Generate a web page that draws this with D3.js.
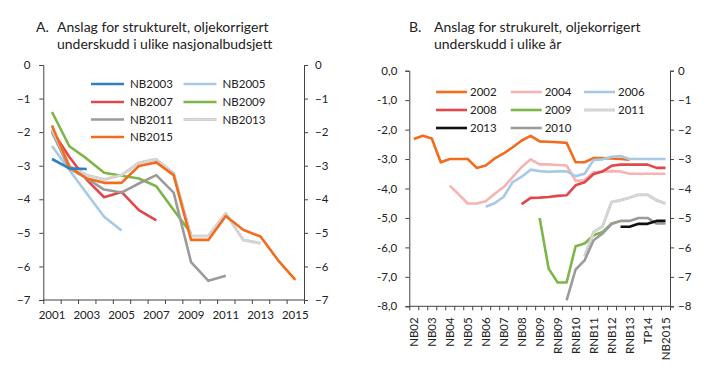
<!DOCTYPE html>
<html>
<head>
<meta charset="utf-8">
<script src="https://cdn.jsdelivr.net/npm/d3@7"></script>
<style>
  html, body { margin: 0; padding: 0; background: #fff; }
  svg { display: block; font-family: "Lato", "Liberation Sans", sans-serif; }
</style>
</head>
<body>
<svg id="chart" width="719" height="383"></svg>
<script>
// ---------- Panel A data ----------
const yearsA = [2001, 2002, 2003, 2004, 2005, 2006, 2007, 2008, 2009, 2010, 2011, 2012, 2013, 2014, 2015];
const yTicksA = [0, -1, -2, -3, -4, -5, -6, -7];
const xLabelsA = [2001, 2003, 2005, 2007, 2009, 2011, 2013, 2015];
const nb2003 = [-2.8, -3.08, -3.1];
const nb2005 = [-2.41, -3.13, -3.83, -4.52, -4.93];
const nb2007 = [-1.95, -2.74, -3.42, -3.94, -3.78, -4.32, -4.63];
const nb2009 = [-1.4, -2.42, -2.79, -3.21, -3.3, -3.38, -3.61, -4.32, -5.01];
const nb2011 = [-2.0, -3.08, -3.38, -3.71, -3.8, -3.53, -3.28, -3.8, -5.87, -6.43, -6.28];
const nb2013 = [-1.9, -3.0, -3.28, -3.41, -3.28, -2.91, -2.81, -3.23, -5.09, -5.09, -4.42, -5.21, -5.31];
const nb2015 = [-1.8, -3.03, -3.38, -3.51, -3.51, -3.01, -2.9, -3.28, -5.21, -5.21, -4.5, -4.91, -5.11, -5.81, -6.4];

// ---------- Panel B data ----------
const catsB = ["NB02","RNB02","NB03","RNB03","NB04","RNB04","NB05","RNB05","NB06","RNB06",
               "NB07","RNB07","NB08","RNB08","NB09","TP09","RNB09","NB10","RNB10","NB11",
               "RNB11","NB12","RNB12","NB13","RNB13","NB14","TP14","RNB14","NB2015"];
const xLabelsB = ["NB02","NB03","NB04","NB05","NB06","NB07","NB08","NB09","RNB09","RNB10","RNB11","RNB12","RNB13","TP14","NB2015"];
const yTicksB = [0, -1, -2, -3, -4, -5, -6, -7, -8];
const s2002 = [-2.32,-2.21,-2.30,-3.11,-3.0,-3.0,-3.0,-3.3,-3.22,-2.98,-2.81,-2.6,-2.37,-2.21,-2.4,-2.41,-2.43,-2.45,-3.11,-3.11,-2.97,-2.97,-2.98,-3.0,-3.02];
const s2004 = [-3.9,-4.2,-4.51,-4.51,-4.43,-4.18,-3.95,-3.61,-3.27,-3.01,-3.18,-3.18,-3.2,-3.22,-3.74,-3.72,-3.45,-3.42,-3.41,-3.42,-3.5,-3.5,-3.5,-3.5,-3.5];
const s2006 = [-4.62,-4.5,-4.28,-3.78,-3.6,-3.36,-3.41,-3.43,-3.42,-3.42,-3.58,-3.5,-3.03,-3.01,-2.92,-2.9,-3.0,-3.0,-3.0,-3.0,-3.0];
const s2008 = [-4.53,-4.32,-4.31,-4.29,-4.25,-4.23,-3.89,-3.79,-3.51,-3.42,-3.23,-3.19,-3.19,-3.19,-3.19,-3.3,-3.3];
const s2009 = [-5.0,-6.72,-7.19,-7.19,-5.96,-5.87,-5.59,-5.48,-5.19,-5.1];
const s2011 = [-6.3,-5.48,-5.28,-4.46,-4.4,-4.31,-4.21,-4.21,-4.4,-4.51];
const s2010 = [-7.8,-6.75,-6.44,-5.76,-5.53,-5.21,-5.1,-5.1,-5.0,-5.0,-5.19,-5.19];
const s2013 = [-5.3,-5.3,-5.2,-5.2,-5.1,-5.1];

const C = {
  blue: "#2f7fc1", lightblue: "#a8c9e6", red: "#e1474b", green: "#7cb647",
  grey: "#9b9b9b", lightgrey: "#cfcfcf", orange: "#f36c1c", pink: "#f6b3b2", black: "#111111"
};

const svg = d3.select("#chart");
const axisColor = "#444";
const tickFont = 11.5;
const titleFont = 14;

function drawDotted(g, pathD, w) {
  g.append("path").attr("d", pathD).attr("fill", "none").attr("stroke", C.lightgrey)
    .attr("stroke-width", w).attr("stroke-linejoin", "round");
  g.append("path").attr("d", pathD).attr("fill", "none").attr("stroke", "#e6e6e6")
    .attr("stroke-width", 1).attr("stroke-dasharray", "1.5,1.5");
}

function title(g, xl, xt, letter, l1, l2) {
  g.append("text").attr("x", xl).attr("y", 31.5).attr("font-size", titleFont).attr("fill", "#222").text(letter);
  g.append("text").attr("x", xt).attr("y", 31.5).attr("font-size", titleFont).attr("fill", "#222").text(l1);
  g.append("text").attr("x", xt).attr("y", 48.5).attr("font-size", titleFont).attr("fill", "#222").text(l2);
}

function styleAxes(list) {
  list.forEach(a => {
    a.select(".domain").attr("stroke", axisColor);
    a.selectAll(".tick line").attr("stroke", axisColor);
    a.selectAll("text").attr("font-size", tickFont).attr("fill", "#222").attr("font-family", "Lato, sans-serif");
  });
}

// ================= Panel A =================
(function () {
  const L = 43.3, R = 304, T = 65, B = 300;
  const x = d3.scaleBand().domain(yearsA).range([L, R]).padding(0);
  const y = d3.scaleLinear().domain([-7, 0]).range([B, T]);
  const g = svg.append("g");

  title(g, 36, 57, "A.", "Anslag for strukturelt, oljekorrigert", "underskudd i ulike nasjonalbudsjett");

  const la = g.append("g").attr("transform", `translate(${L},0)`)
    .call(d3.axisLeft(y).tickValues(yTicksA).tickSize(4).tickPadding(9).tickFormat(d3.format("d")));
  const ra = g.append("g").attr("transform", `translate(${R},0)`)
    .call(d3.axisRight(y).tickValues(yTicksA).tickSize(4).tickPadding(7).tickFormat(d3.format("d")));
  const xb = d3.scaleLinear().domain([0, yearsA.length]).range([L, R]);
  const ba = g.append("g").attr("transform", `translate(0,${B})`)
    .call(d3.axisBottom(xb).tickValues(d3.range(0, yearsA.length + 1)).tickSize(4).tickFormat(""));
  styleAxes([la, ra, ba]);
  ba.select(".domain").attr("d", `M${L},0H${R}`);
  g.selectAll(null).data(xLabelsA).enter().append("text")
    .attr("x", d => x(d) + x.bandwidth() / 2).attr("y", B + 19)
    .attr("text-anchor", "middle").attr("font-size", tickFont).attr("fill", "#222")
    .text(d => d);

  const line = d3.line().x((d, i) => x(yearsA[i]) + x.bandwidth() / 2).y(d => y(d));
  const series = [
    { v: nb2005, c: C.lightblue }, { v: nb2007, c: C.red }, { v: nb2009, c: C.green },
    { v: nb2011, c: C.grey }, { v: nb2013, c: "dotted" }, { v: nb2015, c: C.orange }, { v: nb2003, c: C.blue }
  ];
  series.forEach(s => {
    const d = line(s.v);
    if (s.c === "dotted") drawDotted(g, d, 3);
    else g.append("path").attr("d", d).attr("fill", "none").attr("stroke", s.c)
      .attr("stroke-width", 2.6).attr("stroke-linejoin", "round");
  });

  const leg = [
    { n: "NB2003", c: C.blue, col: 0, row: 0 }, { n: "NB2005", c: C.lightblue, col: 1, row: 0 },
    { n: "NB2007", c: C.red, col: 0, row: 1 }, { n: "NB2009", c: C.green, col: 1, row: 1 },
    { n: "NB2011", c: C.grey, col: 0, row: 2 }, { n: "NB2013", c: "dotted", col: 1, row: 2 },
    { n: "NB2015", c: C.orange, col: 0, row: 3 }
  ];
  const colX = [91, 183.5], rowY = [84, 102, 119.5, 137];
  leg.forEach(e => {
    const x0 = colX[e.col], yy = rowY[e.row];
    const d = `M${x0},${yy}H${x0 + 33}`;
    if (e.c === "dotted") drawDotted(g, d, 3);
    else g.append("path").attr("d", d).attr("stroke", e.c).attr("stroke-width", 2.6);
    g.append("text").attr("x", x0 + 39).attr("y", yy + 4).attr("font-size", tickFont).attr("fill", "#222").text(e.n);
  });
})();

// ================= Panel B =================
(function () {
  const L = 409.3, R = 670, T = 70.7, B = 306.3;
  const x = d3.scaleBand().domain(catsB).range([L, R]).padding(0);
  const y = d3.scaleLinear().domain([-8, 0]).range([B, T]);
  const g = svg.append("g");

  title(g, 409, 434, "B.", "Anslag for strukurelt, oljekorrigert", "underskudd i ulike år");

  const fmtL = d => d3.format(".1f")(d).replace(".", ",").replace("−", "-");
  const la = g.append("g").attr("transform", `translate(${L},0)`)
    .call(d3.axisLeft(y).tickValues(yTicksB).tickSize(4).tickPadding(8).tickFormat(fmtL));
  const ra = g.append("g").attr("transform", `translate(${R},0)`)
    .call(d3.axisRight(y).tickValues(yTicksB).tickSize(4).tickPadding(4).tickFormat(d3.format("d")));
  const xb = d3.scaleLinear().domain([0, catsB.length]).range([L, R]);
  const ba = g.append("g").attr("transform", `translate(0,${B})`)
    .call(d3.axisBottom(xb).tickValues(d3.range(0, catsB.length + 1)).tickSize(4).tickFormat(""));
  styleAxes([la, ra, ba]);
  ba.select(".domain").attr("d", `M${L},0H${R}`);
  g.selectAll(null).data(xLabelsB).enter().append("text")
    .attr("transform", d => `translate(${x(d) + x.bandwidth() / 2 + 4},${B + 11}) rotate(-90)`)
    .attr("text-anchor", "end").attr("font-size", tickFont).attr("fill", "#222")
    .text(d => d);

  const mk = (vals, start) => d3.line().x((d, i) => x(catsB[start + i]) + x.bandwidth() / 2).y(d => y(d))(vals);
  const series = [
    { v: s2002, s: 0, c: C.orange }, { v: s2004, s: 4, c: C.pink }, { v: s2006, s: 8, c: C.lightblue },
    { v: s2008, s: 12, c: C.red }, { v: s2009, s: 14, c: C.green }, { v: s2011, s: 19, c: "dotted" },
    { v: s2010, s: 17, c: C.grey }, { v: s2013, s: 23, c: C.black }
  ];
  series.forEach(s => {
    const d = mk(s.v, s.s);
    if (s.c === "dotted") drawDotted(g, d, 3);
    else g.append("path").attr("d", d).attr("fill", "none").attr("stroke", s.c)
      .attr("stroke-width", 2.6).attr("stroke-linejoin", "round");
  });

  const leg = [
    { n: "2002", c: C.orange, col: 0, row: 0 }, { n: "2004", c: C.pink, col: 1, row: 0 }, { n: "2006", c: C.lightblue, col: 2, row: 0 },
    { n: "2008", c: C.red, col: 0, row: 1 }, { n: "2009", c: C.green, col: 1, row: 1 }, { n: "2011", c: "dotted", col: 2, row: 1 },
    { n: "2013", c: C.black, col: 0, row: 2 }, { n: "2010", c: C.grey, col: 1, row: 2 }
  ];
  const colX = [436, 510.7, 584], rowY = [92, 110, 128];
  leg.forEach(e => {
    const x0 = colX[e.col], yy = rowY[e.row];
    const d = `M${x0},${yy}H${x0 + 31}`;
    if (e.c === "dotted") drawDotted(g, d, 3);
    else g.append("path").attr("d", d).attr("stroke", e.c).attr("stroke-width", 2.6);
    g.append("text").attr("x", x0 + 34).attr("y", yy + 4).attr("font-size", tickFont).attr("fill", "#222").text(e.n);
  });
})();
</script>
</body>
</html>
